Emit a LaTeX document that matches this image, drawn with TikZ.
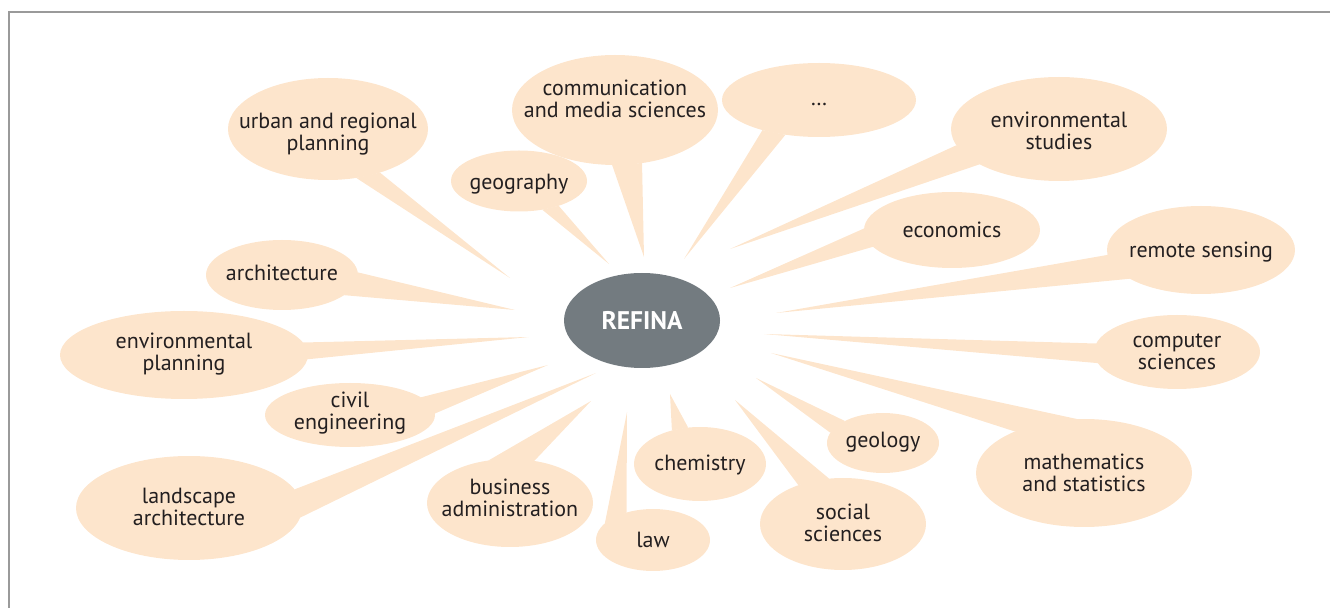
\documentclass[tikz,border=0pt]{standalone}
\usepackage{fontspec}
\setmainfont{PT Sans}
\usetikzlibrary{shapes.geometric,backgrounds}

\definecolor{peach}{HTML}{FDE5CC}
\definecolor{slate}{HTML}{737B80}
\definecolor{ink}{HTML}{231F20}
\definecolor{frame}{HTML}{9A9A9A}

\tikzset{
  bubble/.style={ellipse, fill=peach, inner sep=0pt, outer sep=0pt,
    text=ink, font=\fontsize{12.5}{12.4}\selectfont},
  hub/.style={ellipse, fill=slate, inner sep=0pt, outer sep=0pt, text=white,
    font=\fontsize{14.5}{16}\selectfont\bfseries, minimum width=3.12cm, minimum height=1.90cm}
}

% text box of no size, so the ellipse keeps the size it is given
\newcommand{\lbl}[2][-0.16cm]{\smash{\makebox[0pt]{\raisebox{#1}{\begin{tabular}{@{}c@{}}#2\end{tabular}}}}}
\newcommand{\tail}[4]{\fill[peach] (#1.#2) -- (#4) -- (#1.#3) -- cycle;}

\begin{document}
\begin{tikzpicture}
\useasboundingbox (0,0) rectangle (26.6,-12.16);
\draw[frame, line width=0.03cm] (0.18,-12.16) -- (0.18,-0.24) -- (26.6,-0.24);

\node[hub] (refina) at (12.84,-6.41) {REFINA};

\node[bubble, minimum width=4.00cm, minimum height=2.04cm] (urban) at (6.56,-2.58) {\lbl[-0.22cm]{urban and regional\\planning}};
\node[bubble, minimum width=2.72cm, minimum height=1.22cm] (geo) at (10.38,-3.62) {\lbl[-0.18cm]{geography}};
\node[bubble, minimum width=4.12cm, minimum height=2.20cm] (comm) at (12.30,-2.20) {\lbl[0.06cm]{communication\\and media sciences}};
\node[bubble, minimum width=3.88cm, minimum height=1.48cm] (dots) at (16.38,-2.00) {\lbl[-0.12cm]{\dots}};
\node[bubble, minimum width=4.32cm, minimum height=2.08cm] (envst) at (21.18,-2.58) {\lbl[-0.20cm]{environmental\\studies}};
\node[bubble, minimum width=3.52cm, minimum height=1.52cm] (econ) at (19.04,-4.60) {\lbl{economics}};
\node[bubble, minimum width=3.76cm, minimum height=1.76cm] (remote) at (24.02,-5.00) {\lbl{remote sensing}};
\node[bubble, minimum width=3.32cm, minimum height=1.48cm] (comp) at (23.54,-7.04) {\lbl[-0.14cm]{computer\\sciences}};
\node[bubble, minimum width=4.32cm, minimum height=2.16cm] (math) at (21.68,-9.46) {\lbl{mathematics\\and statistics}};
\node[bubble, minimum width=2.24cm, minimum height=1.20cm] (geol) at (17.66,-8.86) {\lbl[-0.10cm]{geology}};
\node[bubble, minimum width=3.32cm, minimum height=1.84cm] (social) at (16.86,-10.48) {\lbl[-0.14cm]{social\\sciences}};
\node[bubble, minimum width=2.64cm, minimum height=1.48cm] (chem) at (14.00,-9.28) {\lbl[-0.14cm]{chemistry}};
\node[bubble, minimum width=2.28cm, minimum height=1.24cm] (law) at (13.06,-10.80) {\lbl{law}};
\node[bubble, minimum width=3.32cm, minimum height=1.76cm] (busi) at (10.20,-10.06) {\lbl[-0.06cm]{business\\administration}};
\node[bubble, minimum width=4.52cm, minimum height=2.08cm] (landsc) at (3.78,-10.16) {\lbl[-0.14cm]{landscape\\architecture}};
\node[bubble, minimum width=3.40cm, minimum height=1.28cm] (civil) at (7.00,-8.30) {\lbl[-0.08cm]{civil\\engineering}};
\node[bubble, minimum width=4.96cm, minimum height=1.76cm] (envpl) at (3.68,-7.10) {\lbl[-0.10cm]{environmental\\planning}};
\node[bubble, minimum width=3.04cm, minimum height=1.40cm] (arch) at (5.64,-5.50) {\lbl[-0.12cm]{architecture}};

\coordinate (t-urban) at (10.20,-5.56);
\coordinate (t-geo) at (12.18,-5.28);
\coordinate (t-comm) at (12.88,-5.14);
\coordinate (t-dots) at (13.68,-5.18);
\coordinate (t-envst) at (14.60,-4.98);
\coordinate (t-econ) at (14.60,-5.76);
\coordinate (t-remote) at (15.52,-6.26);
\coordinate (t-comp) at (15.28,-6.68);
\coordinate (t-math) at (15.42,-7.06);
\coordinate (t-geol) at (15.12,-7.56);
\coordinate (t-social) at (14.70,-8.00);
\coordinate (t-chem) at (13.40,-7.88);
\coordinate (t-law) at (12.54,-8.24);
\coordinate (t-busi) at (11.82,-8.02);
\coordinate (t-landsc) at (11.92,-7.46);
\coordinate (t-civil) at (10.96,-7.30);
\coordinate (t-envpl) at (10.58,-6.74);
\coordinate (t-arch) at (10.30,-6.20);

\begin{pgfonlayer}{background}
\tail{urban}{-60}{-40}{t-urban}
\tail{geo}{-51}{-32}{t-geo}
\tail{comm}{-93}{-63}{t-comm}
\tail{dots}{-152}{-134}{t-dots}
\tail{envst}{-171}{-156}{t-envst}
\tail{econ}{179}{-168}{t-econ}
\tail{remote}{-177}{-158}{t-remote}
\tail{comp}{174}{-172}{t-comp}
\tail{math}{97}{149}{t-math}
\tail{geol}{150}{169}{t-geol}
\tail{social}{139}{107}{t-social}
\tail{chem}{130}{108}{t-chem}
\tail{law}{161}{134}{t-law}
\tail{busi}{117}{60}{t-busi}
\tail{landsc}{10}{-5}{t-landsc}
\tail{civil}{14}{1}{t-civil}
\tail{envpl}{6}{-2}{t-envpl}
\tail{arch}{2}{-18}{t-arch}
\end{pgfonlayer}
\end{tikzpicture}
\end{document}
